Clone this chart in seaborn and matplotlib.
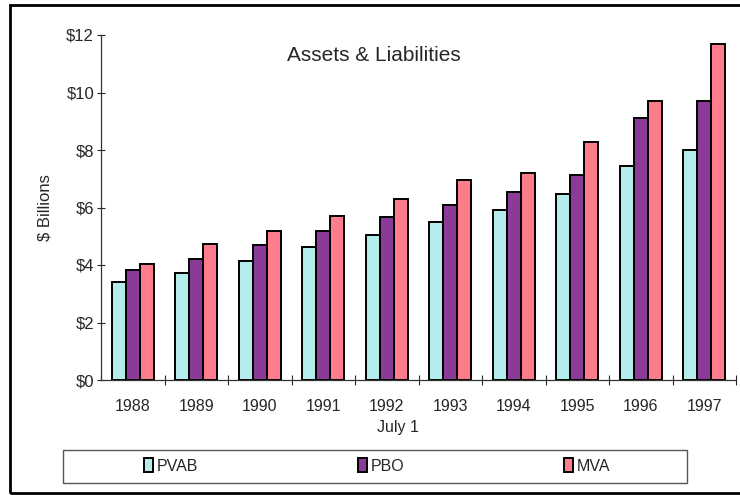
import seaborn as sns
import matplotlib.pyplot as plt
import matplotlib.patches as mpatches
import pandas as pd

years = ['1988', '1989', '1990', '1991', '1992', '1993', '1994', '1995', '1996', '1997']
pvab = [3.41, 3.72, 4.14, 4.63, 5.04, 5.50, 5.91, 6.47, 7.44, 8.00]
pbo = [3.84, 4.20, 4.68, 5.18, 5.67, 6.09, 6.54, 7.13, 9.11, 9.70]
mva = [4.05, 4.73, 5.18, 5.70, 6.30, 6.96, 7.20, 8.28, 9.70, 11.69]
series = ['PVAB', 'PBO', 'MVA']
colors = ['#b4ecec', '#8a3b97', '#ff7c8c']
y_ticks = [0, 2, 4, 6, 8, 10, 12]

sns.set_theme(style='ticks')
plt.rcParams['font.family'] = ['Liberation Sans', 'DejaVu Sans']

df = pd.DataFrame({
    'year': years * 3,
    'value': pvab + pbo + mva,
    'series': [s for s in series for _ in years],
})

fig = plt.figure(figsize=(7.4, 4.95), dpi=100)
ax = fig.add_axes([101 / 740, 1 - 380 / 495, 635 / 740, 345 / 495])

sns.barplot(data=df, x='year', y='value', hue='series', palette=colors,
            saturation=1, width=0.66, edgecolor='black', linewidth=1.4, ax=ax)

ax.set_ylim(0, 12)
ax.set_xlim(-0.5, 9.5)
ax.set_yticks(y_ticks)
ax.set_yticklabels([f'${v}' for v in y_ticks], fontsize=12)
ax.tick_params(axis='y', direction='inout', length=6, width=0.8, pad=2)
ax.tick_params(axis='x', which='major', length=0, labelsize=11.5, pad=14)
ax.set_xticks([i + 0.5 for i in range(len(years))], minor=True)
ax.tick_params(axis='x', which='minor', direction='inout', length=7, width=0.8)
sns.despine(ax=ax)
for s in ['left', 'bottom']:
    ax.spines[s].set_linewidth(0.9)
    ax.spines[s].set_color('#333333')

ax.set_ylabel('$ Billions', fontsize=12, labelpad=10)
ax.set_xlabel('July 1', fontsize=11.5)
ax.xaxis.set_label_coords(0.468, -0.115)
ax.text(0.43, 0.94, 'Assets & Liabilities', transform=ax.transAxes,
        ha='center', va='center', fontsize=15)

sns.move_legend(ax, 'center', bbox_to_anchor=(377 / 740, 1 - 466 / 495),
                bbox_transform=fig.transFigure, ncol=3, frameon=False, title=None,
                fontsize=11.5, handlelength=0.6, handleheight=0.9, handletextpad=0.2,
                columnspacing=10)

# legend box and outer frame
fig.patches.append(mpatches.Rectangle((63 / 740, 1 - 483 / 495), 624 / 740, 33 / 495,
                                      transform=fig.transFigure, fill=False,
                                      edgecolor='#555555', linewidth=1.0))
fig.patches.append(mpatches.Rectangle((10 / 740, 1 - 493 / 495), 740 / 740, 488 / 495,
                                      transform=fig.transFigure, fill=False,
                                      edgecolor='black', linewidth=2.0))

fig.savefig('out.png', dpi=100)
